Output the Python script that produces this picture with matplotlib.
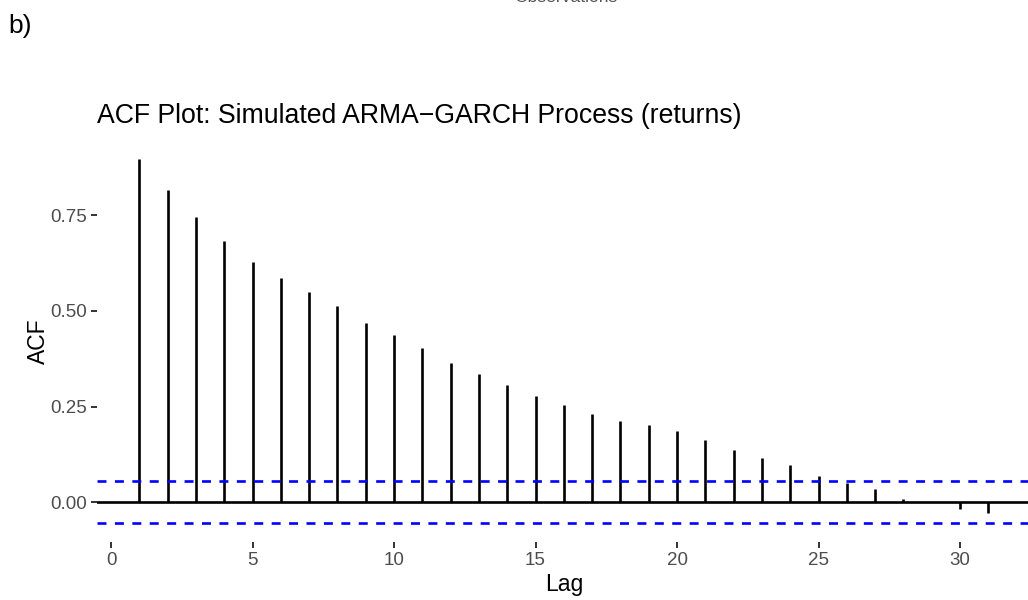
import matplotlib
matplotlib.use('Agg')
import matplotlib.pyplot as plt
import numpy as np

plt.rcParams['font.family'] = ['Liberation Sans', 'DejaVu Sans']

# ACF values
lags = np.arange(1, 32)
acf = [0.897, 0.817, 0.745, 0.683, 0.629, 0.586, 0.550, 0.512, 0.469, 0.436,
       0.404, 0.365, 0.335, 0.307, 0.277, 0.253, 0.231, 0.213, 0.202, 0.187,
       0.164, 0.136, 0.117, 0.098, 0.070, 0.051, 0.034, 0.008, 0.001, -0.017,
       -0.027]
ci = 0.055
xticks = [0, 5, 10, 15, 20, 25, 30]
yticks = [0.00, 0.25, 0.50, 0.75]
ylabels = ['0.00', '0.25', '0.50', '0.75']

fig = plt.figure(figsize=(10.28, 6.0), dpi=100)
ax = fig.add_axes([0.0943, 0.0975, 0.9084, 0.6678])

ax.axhline(0, color='black', lw=1.9, zorder=2)
ax.vlines(lags, 0, acf, color='black', lw=1.9, zorder=3)
ax.axhline(ci, color='#0000FF', lw=1.9, dashes=(3.4, 3.2), zorder=4)
ax.axhline(-ci, color='#0000FF', lw=1.9, dashes=(3.4, 3.2), zorder=4)

ax.set_xlim(-0.5, 32.5)
ax.set_ylim(-0.1024, 0.9446)
ax.set_xticks(xticks)
ax.set_yticks(yticks)
ax.set_yticklabels(ylabels)
for s in ax.spines.values():
    s.set_visible(False)
ax.tick_params(length=4.5, width=1.4, color='#333333', labelcolor='#4D4D4D',
               labelsize=13.5, pad=3)

ax.set_xlabel('Lag', fontsize=16.5, labelpad=3)
ax.set_ylabel('ACF', fontsize=16.5, labelpad=0)
ax.set_title('ACF Plot: Simulated ARMA\u2212GARCH Process (returns)',
             loc='left', fontsize=19.2, pad=13)

fig.text(8/1028, 1 - 33/600, 'b)', fontsize=19, va='baseline')
fig.text(566/1028, 1 - 1.5/600, 'Observations', fontsize=12.6, va='baseline',
         ha='center', color='#555555')

fig.savefig('out.png', dpi=100)
